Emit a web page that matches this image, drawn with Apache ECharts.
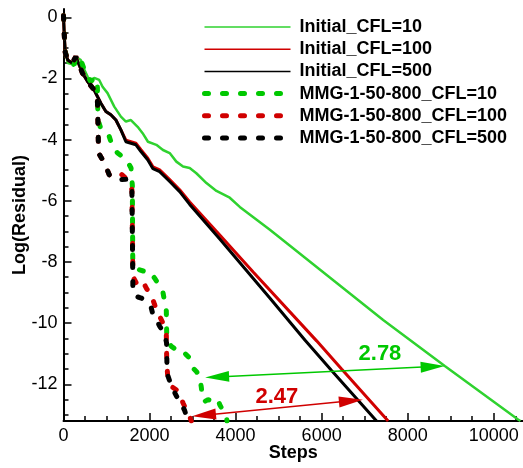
<!DOCTYPE html>
<html><head><meta charset="utf-8">
<script src="https://cdn.jsdelivr.net/npm/echarts@6/dist/echarts.min.js"></script>
<style>html,body{margin:0;padding:0;background:#fff}#c{width:523px;height:468px}</style>
</head><body><div id="c"></div>
<script>
const seriesNames = ['Initial_CFL=10','Initial_CFL=100','Initial_CFL=500','MMG-1-50-800_CFL=10','MMG-1-50-800_CFL=100','MMG-1-50-800_CFL=500'];
const xTicks = [0,2000,4000,6000,8000,10000];
const yTicks = [0,-2,-4,-6,-8,-10,-12];

const initCFL10 = [[0,0.05],[15,-0.4],[40,-1.1],[100,-1.5],[250,-1.55],[286,-1.29],[403,-1.4],[480,-1.7],[559,-1.94],[636,-2.1],[714,-1.98],[830,-2.05],[908,-2.27],[1024,-2.48],[1180,-2.92],[1334,-3.25],[1450,-3.41],[1567,-3.36],[1723,-3.58],[1839,-3.79],[1963,-4.07],[2158,-4.17],[2312,-4.34],[2468,-4.44],[2623,-4.72],[2778,-4.88],[2933,-4.93],[3088,-5.1],[3322,-5.42],[3555,-5.68],[3864,-5.9],[4097,-6.2],[4797,-6.95],[7430,-9.9],[8862,-11.4],[10565,-13.15],[10620,-13.2]];
const initCFL100 = [[0,0.05],[15,-0.5],[40,-1.15],[100,-1.4],[200,-1.5],[286,-1.29],[365,-1.56],[442,-1.83],[559,-2.1],[714,-2.38],[792,-2.6],[869,-2.81],[985,-3.08],[1101,-3.19],[1218,-3.36],[1334,-3.68],[1450,-4.02],[1567,-4.07],[1683,-4.12],[1800,-4.33],[1956,-4.6],[2079,-4.89],[2235,-4.99],[2468,-5.31],[2700,-5.64],[2933,-6.04],[3632,-7.12],[4408,-8.33],[5883,-10.58],[6463,-11.5],[7545,-13.2]];
const initCFL500 = [[0,0.05],[15,-0.5],[40,-1.15],[100,-1.4],[200,-1.5],[286,-1.29],[365,-1.56],[442,-1.83],[559,-2.1],[714,-2.38],[792,-2.6],[869,-2.81],[985,-3.08],[1101,-3.19],[1218,-3.36],[1334,-3.68],[1450,-4.07],[1567,-4.12],[1683,-4.17],[1800,-4.39],[1956,-4.66],[2079,-4.95],[2235,-5.05],[2468,-5.37],[2700,-5.7],[2933,-6.12],[3632,-7.25],[4795,-9.18],[5610,-10.55],[6230,-11.55],[7276,-13.2]];
const mmgCFL10 = [[0,0.05],[15,-0.4],[40,-1.1],[100,-1.5],[250,-1.55],[286,-1.29],[403,-1.4],[480,-1.7],[559,-1.94],[636,-2.1],[714,-1.98],[785,-2.05],[800,-3.35],[870,-3.65],[960,-3.72],[1063,-3.9],[1141,-4.23],[1257,-4.44],[1373,-4.56],[1490,-4.72],[1570,-4.93],[1600,-5.5],[1610,-8.04],[1653,-8.15],[1769,-8.26],[1886,-8.31],[2002,-8.31],[2118,-8.53],[2235,-8.78],[2312,-9.0],[2351,-9.3],[2390,-9.6],[2400,-10.5],[2428,-10.6],[2507,-10.76],[2623,-10.87],[2740,-10.87],[2856,-11.04],[2933,-11.14],[3010,-11.47],[3088,-11.58],[3166,-11.74],[3205,-12.12],[3230,-12.5],[3282,-12.56],[3360,-12.5],[3515,-12.56],[3593,-12.5],[3632,-12.67],[3700,-12.84],[3787,-13.05],[3800,-13.2]];
const mmgCFL100 = [[0,0.05],[15,-0.5],[40,-1.15],[100,-1.4],[200,-1.5],[286,-1.29],[365,-1.56],[442,-1.83],[559,-2.1],[714,-2.38],[785,-2.55],[800,-3.4],[815,-4.44],[908,-4.66],[985,-4.88],[1063,-5.15],[1180,-5.22],[1334,-5.12],[1450,-5.26],[1529,-5.42],[1590,-5.64],[1614,-8.48],[1692,-8.69],[1769,-8.86],[1886,-8.75],[1925,-8.86],[2041,-9.08],[2118,-9.4],[2235,-9.78],[2312,-10.0],[2390,-10.38],[2400,-11.3],[2428,-11.86],[2507,-12.07],[2623,-12.18],[2700,-12.35],[2778,-12.61],[2856,-12.84],[2933,-13.05],[2970,-13.2]];
const mmgCFL500 = [[0,0.05],[15,-0.5],[40,-1.15],[100,-1.4],[200,-1.5],[286,-1.29],[365,-1.56],[442,-1.83],[559,-2.1],[714,-2.38],[785,-2.55],[800,-3.4],[815,-4.44],[908,-4.66],[985,-4.88],[1063,-5.15],[1180,-5.28],[1334,-5.31],[1450,-5.3],[1529,-5.45],[1590,-5.64],[1614,-9.02],[1692,-9.13],[1808,-9.18],[1886,-9.24],[1963,-9.35],[2041,-9.51],[2079,-9.72],[2158,-9.88],[2235,-10.1],[2351,-10.37],[2395,-10.64],[2405,-11.4],[2428,-11.73],[2507,-12.05],[2584,-12.27],[2661,-12.48],[2740,-12.64],[2817,-12.86],[2890,-13.2]];

// arrow shafts (the head centre sits on each end point)
const arrowGreen = [[3570,-11.76],[8580,-11.42]];
const arrowRed = [[3265,-13.01],[6680,-12.54]];
const labelGreen = {text:'2.78', at:[7355,-11.0]};
const labelRed = {text:'2.47', at:[4960,-12.4]};

const FONT = '"Liberation Sans", Arial, sans-serif';
const GREEN_I = '#2fd22f', GREEN_M = '#00c800', RED = '#d00000', BLACK = '#000000';

const chart = echarts.init(document.getElementById('c'), null, {renderer:'canvas'});

function lineSeries(name, data, color, width, dashed, extra) {
  const s = {
    name, type:'line', data, symbol:'none', showSymbol:false, animation:false,
    lineStyle: dashed ? {color, width, type:[4,14], cap:'round'} : {color, width, type:'solid'},
    itemStyle:{color}, z: dashed ? 3 : 2
  };
  return Object.assign(s, extra || {});
}
function arrowMark(pts, color, lbl) {
  return {
    markLine: {
      silent:true, animation:false,
      symbol:['triangle','triangle'], symbolSize:[11,24],
      lineStyle:{color, width:1.6, type:'solid'},
      label:{show:false},
      data:[[{coord:pts[0]},{coord:pts[1]}]]
    },
    markPoint: {
      silent:true, animation:false, symbol:'circle', symbolSize:1,
      itemStyle:{color:'rgba(0,0,0,0)'},
      label:{show:true, position:'inside', formatter:lbl.text, color, fontSize:22, fontWeight:'bold', fontFamily:FONT},
      data:[{coord:lbl.at}]
    }
  };
}

const legendWidths = [1.5,1.5,1.5,5,5,5];
chart.setOption({
  backgroundColor:'#fff',
  animation:false,
  grid:{left:63.5, right:0, top:9, bottom:47, containLabel:false, outerBoundsMode:'none'},
  legend:{
    orient:'vertical', left:197, top:13, itemWidth:86, itemHeight:14, itemGap:4.2,
    textStyle:{fontSize:18, fontWeight:'bold', color:'#000', fontFamily:FONT, padding:[0,0,0,4]},
    itemStyle:{opacity:0},
    selectedMode:false,
    data: seriesNames.map((n,i)=> ({name:n, itemStyle:{opacity:0}, lineStyle:{width:legendWidths[i]}}))
  },
  xAxis:{
    type:'value', min:0, max:10680, splitNumber:5,
    name:'Steps', nameLocation:'middle', nameGap:23, nameMoveOverlap:false,
    nameTextStyle:{fontSize:18, fontWeight:'bold', color:'#000', fontFamily:FONT},
    axisLine:{show:true, onZero:false, lineStyle:{color:'#000', width:2}},
    axisTick:{show:true, inside:true, length:8, lineStyle:{color:'#000', width:1.5}, customValues:xTicks},
    minorTick:{show:true, splitNumber:4, length:5, lineStyle:{color:'#000', width:1.5}},
    axisLabel:{fontSize:18, color:'#000', fontFamily:FONT, margin:6, customValues:xTicks, formatter:v=>String(v)},
    splitLine:{show:false}, minorSplitLine:{show:false}
  },
  yAxis:{
    type:'value', min:-13.2, max:0.27, splitNumber:7,
    name:'Log(Residual)', nameLocation:'middle', nameGap:34, nameRotate:90, nameMoveOverlap:false,
    nameTextStyle:{fontSize:18, fontWeight:'bold', color:'#000', fontFamily:FONT},
    axisLine:{show:true, onZero:false, lineStyle:{color:'#000', width:2}},
    axisTick:{show:true, inside:true, length:8, lineStyle:{color:'#000', width:1.5}, customValues:yTicks},
    minorTick:{show:true, splitNumber:4, length:5, lineStyle:{color:'#000', width:1.5}},
    axisLabel:{fontSize:18, color:'#000', fontFamily:FONT, margin:6, customValues:yTicks, formatter:v=>String(v)},
    splitLine:{show:false}, minorSplitLine:{show:false}
  },
  series:[
    lineSeries(seriesNames[0], initCFL10, GREEN_I, 2.5, false),
    lineSeries(seriesNames[1], initCFL100, RED, 3, false),
    lineSeries(seriesNames[2], initCFL500, BLACK, 3, false),
    lineSeries(seriesNames[3], mmgCFL10, GREEN_M, 5, true, arrowMark(arrowGreen, GREEN_M, labelGreen)),
    lineSeries(seriesNames[4], mmgCFL100, RED, 5, true, arrowMark(arrowRed, RED, labelRed)),
    lineSeries(seriesNames[5], mmgCFL500, BLACK, 5, true)
  ]
});
</script></body></html>
